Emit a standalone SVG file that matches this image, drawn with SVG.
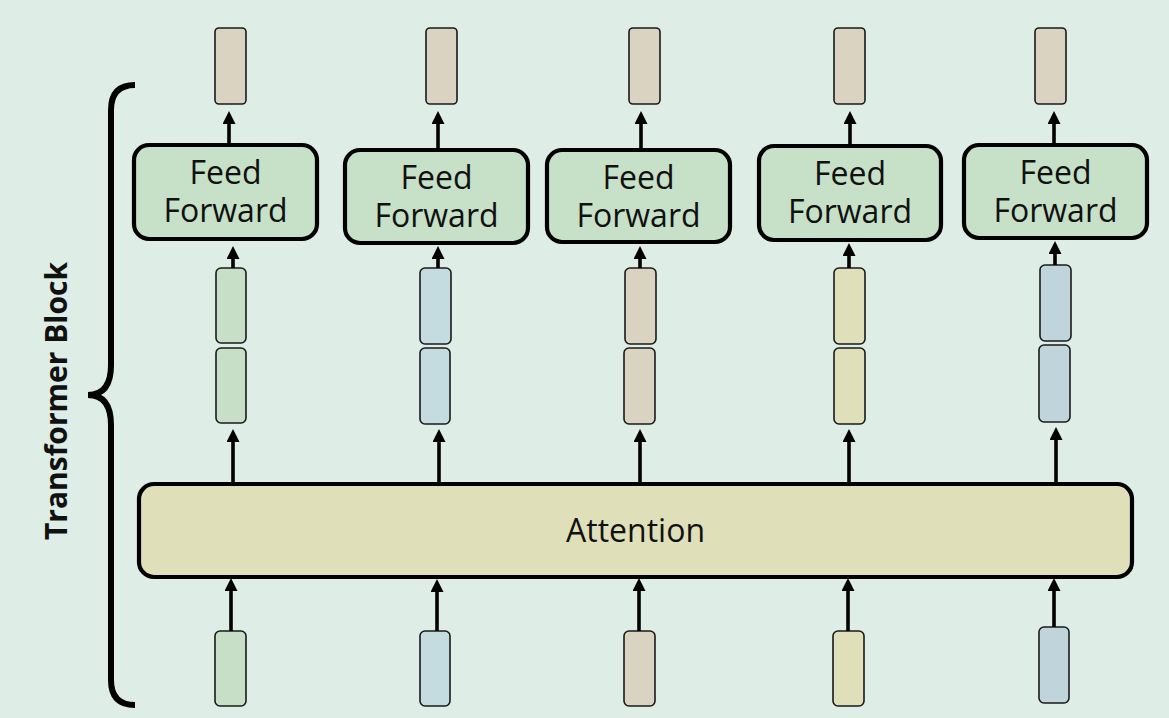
<svg xmlns="http://www.w3.org/2000/svg" width="1169" height="718" viewBox="0 0 1169 718">
<defs>
<marker id="ah" markerUnits="userSpaceOnUse" markerWidth="14" markerHeight="14" refX="4" refY="6.5" orient="auto">
<path d="M0,0 L13,6.5 L0,13 z" fill="#000"/>
</marker>
<style>
.vec{stroke:#1a1a1a;stroke-width:1.6}
.g{fill:#C7DFC6}.b{fill:#C4DBE0}.t{fill:#DAD3C1}.y{fill:#DFDFBA}.s{fill:#C0D4DC}
.ff{fill:#C7E0C8;stroke:#000;stroke-width:4.2}
.att{fill:#DFDFBA;stroke:#000;stroke-width:4.2}
.lbl{font-family:"Open Sans","Noto Sans",sans-serif;font-size:32px;fill:#111;text-anchor:middle}
.con{stroke:#000;stroke-width:3.6;fill:none;marker-end:url(#ah)}
</style>
</defs>
<rect width="1169" height="718" fill="#DEEDE6"/>

<g id="brace">
<path d="M135,85 Q111,85 111,110 L111,365 Q111,395 88,395 Q111,395 111,425 L111,680 Q111,705 135,705" fill="none" stroke="#000" stroke-width="6"/>
<text x="0" y="0" transform="translate(67,401) rotate(-90)" style="font-family:'Open Sans','Noto Sans',sans-serif;font-weight:bold;font-size:30px;fill:#111;text-anchor:middle">Transformer Block</text>
</g>

<g id="outputs">
<rect id="out1" class="vec t" x="215" y="28" width="31" height="76" rx="4"/>
<rect id="out2" class="vec t" x="426" y="28" width="31" height="76" rx="4"/>
<rect id="out3" class="vec t" x="629" y="28" width="31" height="76" rx="4"/>
<rect id="out4" class="vec t" x="834" y="28" width="31" height="76" rx="4"/>
<rect id="out5" class="vec t" x="1035" y="28" width="31" height="76" rx="4"/>
</g>

<g id="ff1"><rect class="ff" x="134" y="145" width="183" height="94" rx="15"/><text class="lbl" x="225.5" y="184">Feed</text><text class="lbl" x="225.5" y="222">Forward</text></g>
<g id="ff2"><rect class="ff" x="345" y="150" width="183" height="93" rx="15"/><text class="lbl" x="436.5" y="189">Feed</text><text class="lbl" x="436.5" y="227">Forward</text></g>
<g id="ff3"><rect class="ff" x="547" y="150" width="183" height="92" rx="15"/><text class="lbl" x="638.5" y="189">Feed</text><text class="lbl" x="638.5" y="227">Forward</text></g>
<g id="ff4"><rect class="ff" x="759" y="146" width="182" height="94" rx="15"/><text class="lbl" x="850" y="185">Feed</text><text class="lbl" x="850" y="223">Forward</text></g>
<g id="ff5"><rect class="ff" x="964" y="145" width="183" height="93" rx="15"/><text class="lbl" x="1055.5" y="184">Feed</text><text class="lbl" x="1055.5" y="222">Forward</text></g>

<g id="mid">
<rect class="vec g" x="216" y="268" width="30" height="75" rx="5"/>
<rect class="vec g" x="216" y="348" width="30" height="75" rx="5"/>
<rect class="vec b" x="420" y="268" width="31" height="76" rx="5"/>
<rect class="vec b" x="420" y="348" width="30" height="76" rx="5"/>
<rect class="vec t" x="625" y="268" width="31" height="76" rx="5"/>
<rect class="vec t" x="624" y="348" width="31" height="76" rx="5"/>
<rect class="vec y" x="834" y="268" width="31" height="76" rx="5"/>
<rect class="vec y" x="834" y="348" width="31" height="76" rx="5"/>
<rect class="vec s" x="1040" y="265" width="31" height="76" rx="5"/>
<rect class="vec s" x="1039" y="345" width="31" height="77" rx="5"/>
</g>

<g id="attention"><rect class="att" x="139" y="484" width="993" height="93" rx="15"/><text class="lbl" x="635.5" y="542">Attention</text></g>

<g id="inputs">
<rect class="vec g" x="215" y="631" width="31" height="75" rx="5"/>
<rect class="vec b" x="420" y="631" width="30" height="75" rx="5"/>
<rect class="vec t" x="624" y="631" width="31" height="75" rx="5"/>
<rect class="vec y" x="833" y="631" width="31" height="75" rx="5"/>
<rect class="vec s" x="1039" y="627" width="30" height="76" rx="5"/>
</g>

<g id="connectors">
<path class="con" d="M229,145 L229,120"/>
<path class="con" d="M438,150 L438,120"/>
<path class="con" d="M641,150 L641,120"/>
<path class="con" d="M850,146 L850,120"/>
<path class="con" d="M1054,145 L1054,120"/>

<path class="con" d="M233,268 L233,255"/>
<path class="con" d="M438,268 L438,255"/>
<path class="con" d="M640,268 L640,255"/>
<path class="con" d="M849,268 L849,252"/>
<path class="con" d="M1055,265 L1055,250"/>

<path class="con" d="M233,484 L233,438"/>
<path class="con" d="M439,484 L439,438"/>
<path class="con" d="M640,484 L640,438"/>
<path class="con" d="M849,484 L849,438"/>
<path class="con" d="M1056,484 L1056,436"/>

<path class="con" d="M231,631 L231,587"/>
<path class="con" d="M437,631 L437,588"/>
<path class="con" d="M639,631 L639,587"/>
<path class="con" d="M848,631 L848,587"/>
<path class="con" d="M1054,627 L1054,587"/>
</g>
</svg>
